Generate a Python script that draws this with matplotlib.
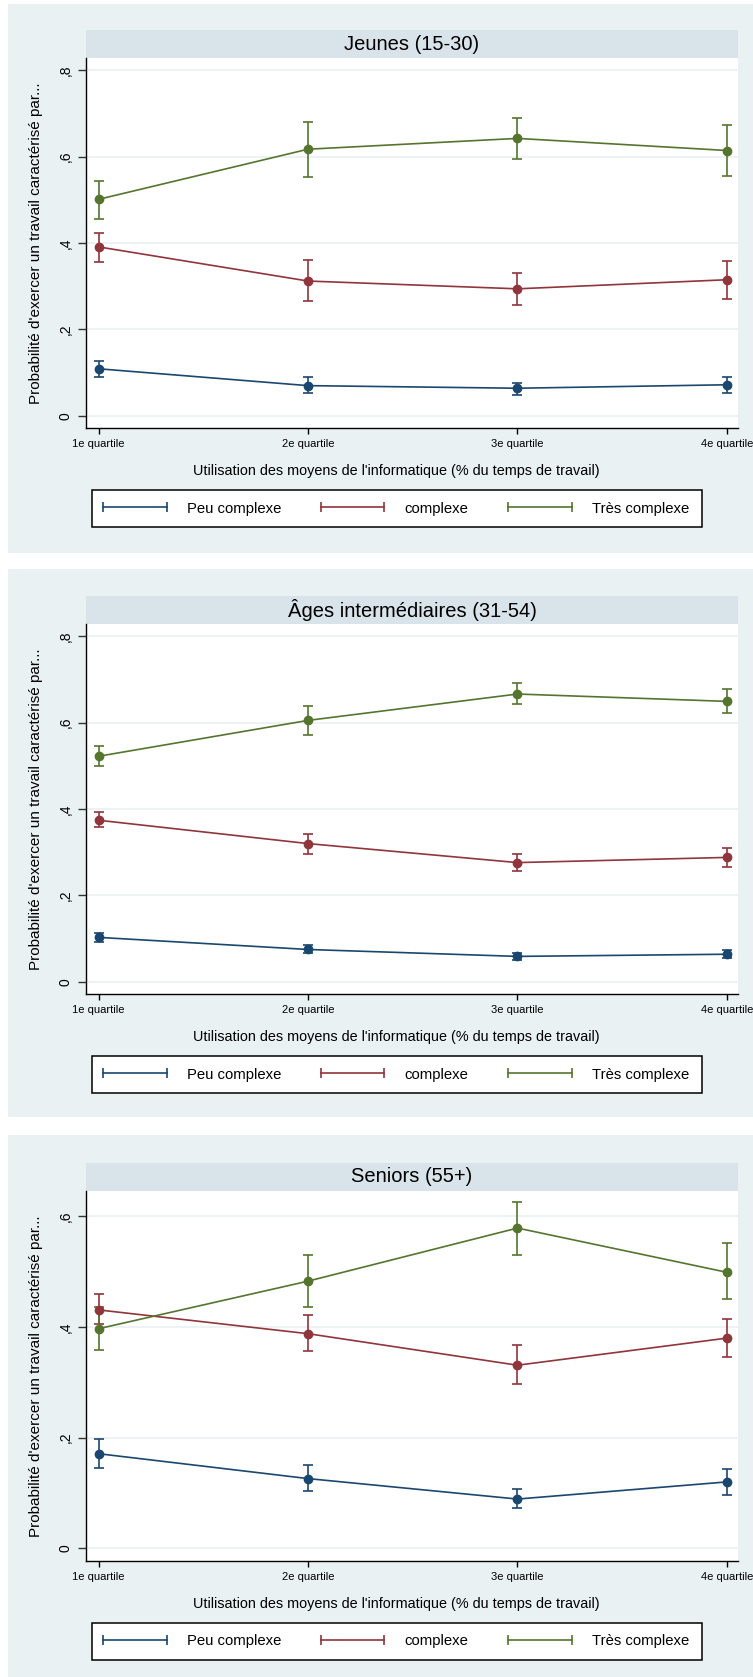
import matplotlib
matplotlib.use("Agg")
import matplotlib.pyplot as plt
from matplotlib.patches import Rectangle
from matplotlib.lines import Line2D
import numpy as np

plt.rcParams['font.family'] = ['Liberation Sans', 'DejaVu Sans']

# ---------------- data ----------------
quartiles = ["1e quartile", "2e quartile", "3e quartile", "4e quartile"]
series_names = ["Peu complexe", "complexe", "Très complexe"]
panel_titles = ["Jeunes (15-30)", "Âges intermédiaires (31-54)", "Seniors (55+)"]

# Jeunes (15-30)
jeunes_peu = [0.109, 0.070, 0.064, 0.072]
jeunes_peu_lo = [0.090, 0.052, 0.049, 0.054]
jeunes_peu_hi = [0.127, 0.091, 0.077, 0.091]
jeunes_cplx = [0.391, 0.312, 0.294, 0.315]
jeunes_cplx_lo = [0.356, 0.265, 0.256, 0.271]
jeunes_cplx_hi = [0.422, 0.360, 0.330, 0.358]
jeunes_tres = [0.501, 0.617, 0.642, 0.614]
jeunes_tres_lo = [0.456, 0.553, 0.595, 0.555]
jeunes_tres_hi = [0.544, 0.680, 0.689, 0.672]

# Âges intermédiaires (31-54)
inter_peu = [0.103, 0.075, 0.059, 0.064]
inter_peu_lo = [0.093, 0.066, 0.050, 0.055]
inter_peu_hi = [0.112, 0.085, 0.067, 0.073]
inter_cplx = [0.374, 0.320, 0.276, 0.288]
inter_cplx_lo = [0.358, 0.296, 0.256, 0.266]
inter_cplx_hi = [0.392, 0.343, 0.295, 0.309]
inter_tres = [0.522, 0.605, 0.666, 0.649]
inter_tres_lo = [0.499, 0.572, 0.642, 0.623]
inter_tres_hi = [0.546, 0.638, 0.692, 0.677]

# Seniors (55+)
seniors_peu = [0.171, 0.126, 0.089, 0.120]
seniors_peu_lo = [0.146, 0.104, 0.073, 0.097]
seniors_peu_hi = [0.197, 0.150, 0.108, 0.143]
seniors_cplx = [0.431, 0.388, 0.331, 0.380]
seniors_cplx_lo = [0.405, 0.357, 0.297, 0.346]
seniors_cplx_hi = [0.459, 0.421, 0.367, 0.415]
seniors_tres = [0.397, 0.483, 0.579, 0.499]
seniors_tres_lo = [0.358, 0.437, 0.531, 0.450]
seniors_tres_hi = [0.436, 0.531, 0.626, 0.552]

ytick_vals_12 = [0, 0.2, 0.4, 0.6, 0.8]
ytick_labels_12 = ["0", ",2", ",4", ",6", ",8"]
ytick_vals_3 = [0, 0.2, 0.4, 0.6]
ytick_labels_3 = ["0", ",2", ",4", ",6"]

ylabel_text = "Probabilité d'exercer un travail caractérisé par..."
xlabel_text = "Utilisation des moyens de l'informatique (% du temps de travail)"

panels = [
    dict(title=panel_titles[0],
         series=[(jeunes_peu, jeunes_peu_lo, jeunes_peu_hi),
                 (jeunes_cplx, jeunes_cplx_lo, jeunes_cplx_hi),
                 (jeunes_tres, jeunes_tres_lo, jeunes_tres_hi)],
         yticks=ytick_vals_12, ylabels=ytick_labels_12, ylim=(-0.028, 0.828)),
    dict(title=panel_titles[1],
         series=[(inter_peu, inter_peu_lo, inter_peu_hi),
                 (inter_cplx, inter_cplx_lo, inter_cplx_hi),
                 (inter_tres, inter_tres_lo, inter_tres_hi)],
         yticks=ytick_vals_12, ylabels=ytick_labels_12, ylim=(-0.028, 0.828)),
    dict(title=panel_titles[2],
         series=[(seniors_peu, seniors_peu_lo, seniors_peu_hi),
                 (seniors_cplx, seniors_cplx_lo, seniors_cplx_hi),
                 (seniors_tres, seniors_tres_lo, seniors_tres_hi)],
         yticks=ytick_vals_3, ylabels=ytick_labels_3, ylim=(-0.023, 0.646)),
]

colors = ["#1a476f", "#90353b", "#55752f"]
bg_color = "#eaf1f3"
strip_color = "#d9e4ea"
grid_color = "#eaf1f3"

W, H = 753, 1677
fig = plt.figure(figsize=(W / 100, H / 100), dpi=100, facecolor="white")


def fx(px):
    return px / W


def fy(py):
    return 1 - py / H


offsets = [0, 566, 1133]
bg_spans = [(4, 553), (569, 1117), (1135, 1680)]

x = np.arange(1, len(quartiles) + 1)

for p, off, (bt, bb) in zip(panels, offsets, bg_spans):
    # panel background
    fig.add_artist(Rectangle((fx(8), fy(bb)), fx(W + 5) - fx(8), (bb - bt) / H,
                             transform=fig.transFigure, fc=bg_color, ec="none", zorder=-10))
    # strip
    fig.add_artist(Rectangle((fx(86), fy(58 + off)), fx(738) - fx(86), 28 / H,
                             transform=fig.transFigure, fc=strip_color, ec="none", zorder=-5))
    ax = fig.add_axes([fx(86), fy(428 + off), fx(738) - fx(86), 370 / H])
    ax.set_facecolor("white")
    ax.text(0.5, 1 + (58 - 44) / 370, p["title"], transform=ax.transAxes,
            ha="center", va="center", fontsize=14.5, color="black")

    for (vals, lo, hi), c in zip(p["series"], colors):
        vals = np.array(vals)
        lo = np.array(lo)
        hi = np.array(hi)
        ax.errorbar(x, vals, yerr=[vals - lo, hi - vals], fmt="o-", color=c,
                    ms=6.0, lw=1.2, elinewidth=1.2, capsize=3.3, capthick=1.2, zorder=3)

    ax.set_xlim(0.94, 4.053)
    ax.set_ylim(*p["ylim"])
    ax.set_xticks(x)
    ax.set_xticklabels(quartiles, fontsize=8)
    ax.set_yticks(p["yticks"])
    ax.set_yticklabels(p["ylabels"], fontsize=10, rotation=90, va="center")
    ax.tick_params(axis="x", length=4.5, width=1.0, pad=3.5, color="black")
    ax.tick_params(axis="y", length=5.8, width=1.0, pad=4, color="#333333")
    ax.grid(axis="y", color=grid_color, lw=1.2, zorder=0)
    ax.set_axisbelow(True)
    for s in ["top", "right"]:
        ax.spines[s].set_visible(False)
    for s in ["left", "bottom"]:
        ax.spines[s].set_linewidth(1.0)
        ax.spines[s].set_color("black")

    ax.set_ylabel(ylabel_text, fontsize=11, va="center")
    ax.yaxis.set_label_coords((36 - 86) / 652, 0.5)
    ax.set_xlabel(xlabel_text, fontsize=10.4, va="center")
    ax.xaxis.set_label_coords((396 - 86) / 652, -(471 - 428) / 370)

    # legend frame
    fig.add_artist(Rectangle((fx(92), fy(527 + off)), fx(702) - fx(92), 37 / H,
                             transform=fig.transFigure, fc="white", ec="black", lw=1.1, zorder=1))
    handles = [Line2D([0, 1], [0, 0], color=c, lw=1.2, marker="|", ms=7, mew=1.2)
               for c in colors]
    leg = fig.legend(handles, series_names, loc="center left",
                     bbox_to_anchor=(fx(99), fy(508.5 + off)), bbox_transform=fig.transFigure,
                     ncol=3, frameon=False, fontsize=10.7, numpoints=2,
                     handlelength=4.85, handletextpad=1.05, columnspacing=2.4,
                     borderpad=0, borderaxespad=0)
    leg.set_zorder(2)

fig.savefig("out.png", dpi=100, facecolor="white")
